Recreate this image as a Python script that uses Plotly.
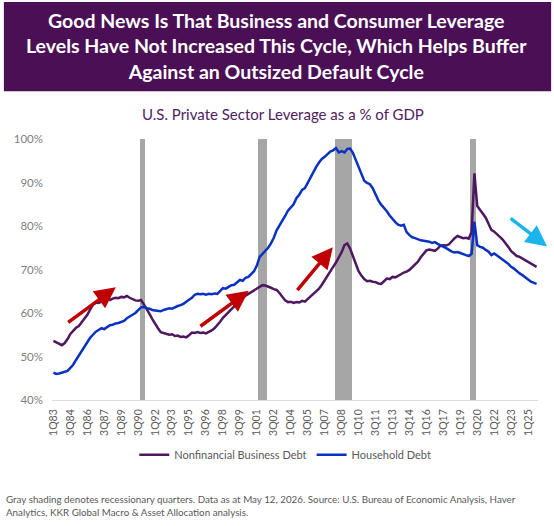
import plotly.graph_objects as go

# quarters 1Q83 .. 4Q25
quarters = [f"{q}Q{y % 100:02d}" for y in range(1983, 2026) for q in range(1, 5)]

business_debt = [
    53.6, 53.2, 52.8, 52.6, 53.1, 54.0, 55.2, 56.0, 56.6, 57.0, 57.8, 58.8,
    59.6, 60.8, 61.9, 62.4, 62.3, 62.6, 62.7, 63.1, 63.0, 63.3, 63.5, 63.4,
    63.7, 63.6, 63.9, 63.5, 63.2, 62.9, 62.8, 63.0, 62.0, 61.0, 59.8, 58.6,
    57.4, 56.5, 55.6, 55.4, 55.3, 55.0, 55.1, 54.7, 54.8, 54.5, 54.6, 54.4,
    54.9, 55.5, 55.4, 55.6, 55.4, 55.5, 55.3, 55.6, 56.0, 56.5, 57.2, 58.0,
    58.9, 59.5, 60.2, 60.9, 61.5, 62.2, 62.9, 63.4, 64.0, 64.4, 64.9, 65.3,
    65.7, 66.1, 66.4, 66.3, 66.1, 65.8, 65.5, 65.3, 64.6, 63.7, 62.9, 62.5,
    62.6, 62.3, 62.5, 62.4, 62.8, 62.6, 63.2, 63.7, 64.4, 65.0, 65.6, 66.5,
    67.6, 68.5, 69.6, 70.6, 71.6, 72.8, 74.0, 75.6, 76.0, 74.8, 73.0, 71.2,
    69.6, 68.6, 67.8, 67.3, 67.4, 67.2, 67.1, 66.8, 66.7, 67.3, 67.9, 67.8,
    68.3, 68.2, 68.5, 68.9, 69.3, 69.5, 69.9, 70.6, 71.3, 71.8, 72.8, 73.5,
    74.4, 74.6, 74.5, 74.3, 74.8, 75.5, 75.6, 75.5, 75.8, 76.6, 77.2, 77.7,
    77.5, 77.2, 77.3, 77.1, 78.6, 92.1, 84.6, 83.8, 82.8, 81.9, 80.4, 79.1,
    78.7, 78.0, 77.5, 76.9, 76.1, 75.2, 74.2, 73.6, 73.1, 72.9, 72.5, 72.1,
    71.6, 71.2, 70.8, 70.6,
]

household_debt = [
    46.3, 46.0, 46.1, 46.3, 46.4, 46.7, 47.4, 48.1, 49.2, 50.2, 51.3, 52.5,
    53.3, 54.3, 55.0, 55.7, 56.1, 56.5, 56.3, 56.8, 57.2, 57.3, 57.6, 57.7,
    57.9, 58.2, 58.8, 59.3, 59.6, 60.0, 60.6, 61.3, 61.4, 61.1, 61.0, 60.7,
    60.6, 60.5, 60.4, 60.7, 60.9, 61.1, 61.0, 61.4, 61.6, 61.8, 62.1, 62.6,
    63.0, 63.5, 64.2, 64.4, 64.3, 64.4, 64.2, 64.4, 64.3, 64.5, 64.4, 65.1,
    65.7, 65.6, 66.0, 66.4, 66.5, 67.1, 67.6, 67.4, 68.1, 68.3, 68.9, 69.6,
    70.9, 72.9, 73.6, 74.2, 75.0, 76.0, 77.3, 79.0, 80.0, 81.3, 82.3, 83.5,
    84.2, 85.0, 86.4, 87.2, 88.3, 88.7, 89.9, 91.2, 92.4, 93.6, 94.6, 95.4,
    95.9, 96.5, 97.1, 97.4, 97.9, 96.9, 97.2, 96.9, 97.7, 97.8, 96.8, 95.2,
    93.6, 91.9, 90.4, 89.9, 89.6, 88.7, 87.2, 85.9, 84.9, 84.2, 83.4, 82.4,
    81.6, 80.9, 80.3, 80.1, 80.3, 78.6, 77.9, 77.4, 77.2, 76.9, 76.7, 76.6,
    76.5, 76.4, 76.1, 76.3, 75.9, 75.6, 75.2, 74.9, 74.5, 74.1, 73.9, 74.0,
    73.8, 73.5, 73.3, 73.1, 73.6, 81.0, 75.6, 75.2, 75.0, 74.5, 74.1, 73.3,
    73.7, 73.2, 72.8, 72.3, 71.8, 71.3, 70.6, 70.2, 69.6, 69.1, 68.7, 68.1,
    67.7, 67.2, 66.9, 66.7,
]

recession_quarters = ["4Q90", "1Q91", "2Q01", "3Q01", "4Q01",
                      "1Q08", "2Q08", "3Q08", "4Q08", "1Q09", "2Q09",
                      "1Q20", "2Q20"]

tick_labels = quarters[::6]

title_text = ("Good News Is That Business and Consumer Leverage<br>"
              "Levels Have Not Increased This Cycle, Which Helps Buffer<br>"
              "Against an Outsized Default Cycle")
subtitle_text = "U.S. Private Sector Leverage as a % of GDP"
footnote_text = ("Gray shading denotes recessionary quarters. Data as at May 12, 2026. "
                 "Source: U.S. Bureau of Economic Analysis, Haver<br>"
                 "Analytics, KKR Global Macro & Asset Allocation analysis.")

PURPLE = "#4E1760"
BLUE = "#0A32C2"
RED = "#C00000"
CYAN = "#1CB4EC"

fig = go.Figure()

# recession shading
fig.add_trace(go.Bar(x=recession_quarters, y=[60] * len(recession_quarters), base=40,
                     marker=dict(color="#A6A6A6", line_width=0), width=1,
                     showlegend=False, hoverinfo="skip"))

fig.add_trace(go.Scatter(x=quarters, y=business_debt, mode="lines",
                         name="Nonfinancial Business Debt",
                         line=dict(color=PURPLE, width=2.5)))
fig.add_trace(go.Scatter(x=quarters, y=household_debt, mode="lines",
                         name="Household Debt",
                         line=dict(color=BLUE, width=2.5)))

fig.update_layout(
    width=554, height=526,
    margin=dict(l=52, r=16, t=139, b=126),
    plot_bgcolor="white", paper_bgcolor="white",
    font=dict(family="Lato", color="#595959"),
    bargap=0,
    showlegend=True,
    legend=dict(orientation="h", x=0.48, xanchor="center", y=-0.21, yanchor="middle",
                font=dict(size=11, color="#595959"), itemwidth=30,
                traceorder="normal"),
)

fig.update_xaxes(type="category", categoryorder="array", categoryarray=quarters,
                 tickmode="array", tickvals=tick_labels, tickangle=-90,
                 tickfont=dict(size=10.5, color="#595959"),
                 showgrid=False, showline=True, linecolor="#D9D9D9", linewidth=1,
                 ticks="", ticklabelstandoff=4, range=[-0.5, len(quarters) - 0.5])
fig.update_yaxes(range=[40, 100], dtick=10, ticksuffix="%",
                 tickfont=dict(size=11.5, color="#7F7F7F"),
                 showgrid=False, zeroline=False, showline=False,
                 ticklabelstandoff=8)

# title banner
fig.add_shape(type="rect", xref="paper", yref="paper",
              x0=-0.099, x1=1.027, y0=1.183, y1=1.525,
              fillcolor="#4A0F55", line_width=0, layer="below")
fig.add_annotation(text="<b>" + title_text + "</b>", xref="paper", yref="paper",
                   x=0.462, y=1.355, xanchor="center", yanchor="middle",
                   showarrow=False, align="center",
                   font=dict(size=19.5, color="white", family="Lato"))
fig.add_annotation(text=subtitle_text, xref="paper", yref="paper",
                   x=0.475, y=1.095, xanchor="center", yanchor="middle",
                   showarrow=False, font=dict(size=15, color="#4F2160", family="Lato"))
fig.add_annotation(text=footnote_text, xref="paper", yref="paper",
                   x=-0.099, y=-0.405, xanchor="left", yanchor="middle",
                   showarrow=False, align="left",
                   font=dict(size=9.8, color="#595959", family="Lato"))

# trend arrows
arrows = [
    (4.7, 57.6, 22.1, 65.9, RED),
    (51.5, 56.7, 69.1, 65.1, RED),
    (85.9, 64.9, 98.9, 75.1, RED),
    (161.3, 82.0, 174.7, 75.3, CYAN),
]
for x0, y0, x1, y1, col in arrows:
    fig.add_annotation(x=x1, y=y1, ax=x0, ay=y0, xref="x", yref="y",
                       axref="x", ayref="y", showarrow=True, arrowhead=2,
                       arrowsize=1.2, arrowwidth=3.5, arrowcolor=col, text="")

fig.write_html("out.html", config={"displayModeBar": False},
               post_script="document.body.style.margin = '0';")
